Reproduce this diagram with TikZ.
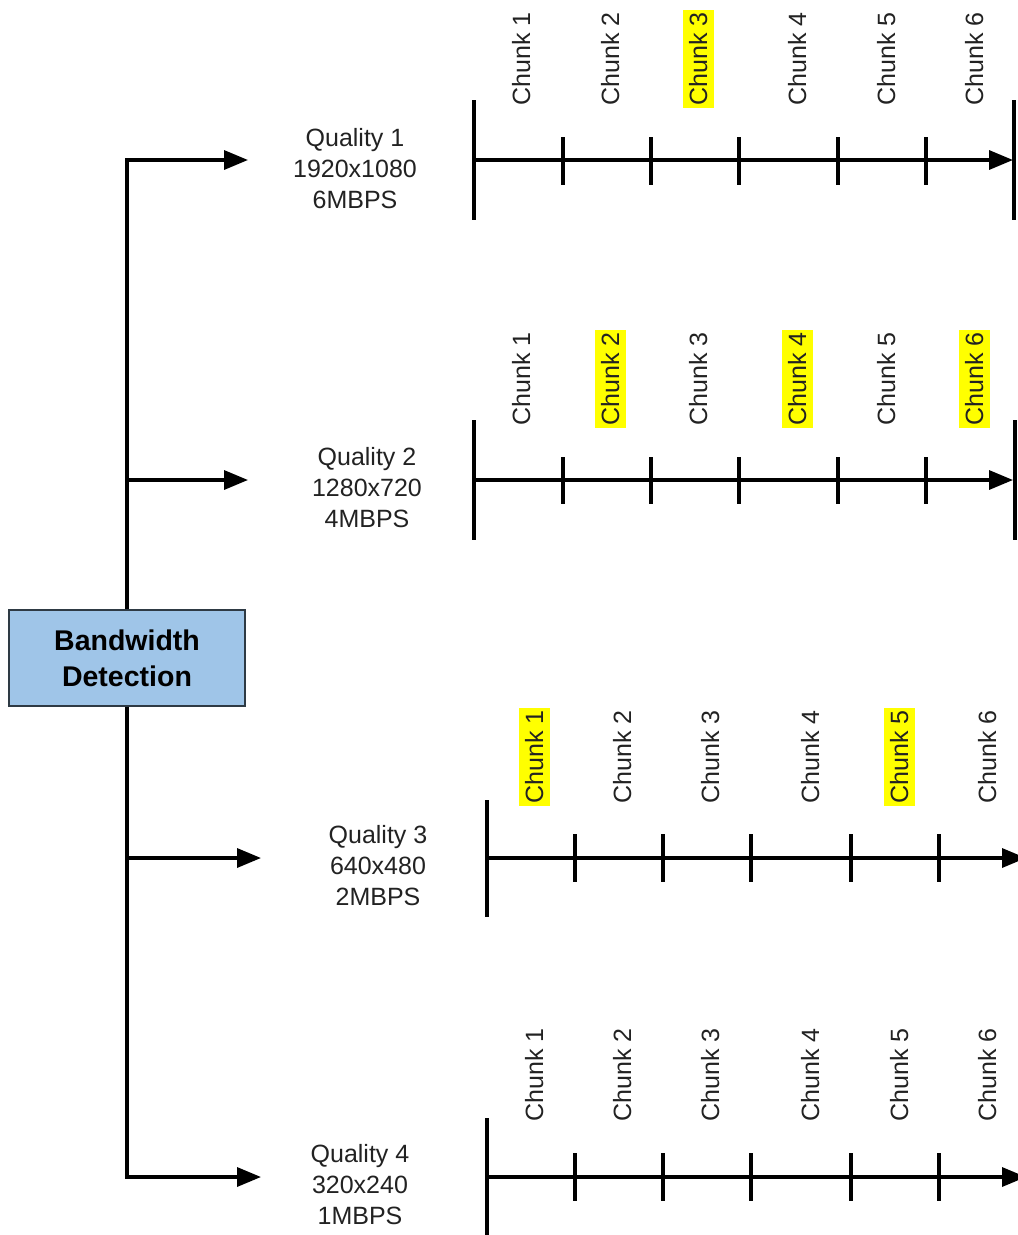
\documentclass[tikz,border=0pt]{standalone}
\usepackage{fontspec}
\setmainfont{Liberation Sans}
\usetikzlibrary{arrows.meta}
\definecolor{boxblue}{HTML}{9FC5E8}
\definecolor{boxline}{HTML}{2E3A44}
\definecolor{txt}{HTML}{222222}
\definecolor{hl}{HTML}{FFFF00}

\begin{document}
\begin{tikzpicture}[x=1pt,y=-1pt,
  wire/.style={line width=3.4pt, black},
  tip/.style={-{Triangle[length=24pt,width=19pt]}},
  qlabel/.style={align=center, font=\fontsize{25}{31}\selectfont, text=txt, inner sep=0pt},
  chunk/.style={rotate=90, font=\fontsize{25}{30}\selectfont, text=txt,
    text height=20pt, text depth=2pt, inner ysep=4.5pt, inner xsep=2pt},
  hlchunk/.style={chunk, fill=hl},
  detect/.style={draw=boxline, line width=1.6pt, fill=boxblue,
    minimum width=236pt, minimum height=96pt, align=center,
    font=\bfseries\fontsize{28.5}{36}\selectfont, text=black}
]
\clip (0,0) rectangle (1018,1235);

% central detection block
\node[detect] (bw) at (127,658) {Bandwidth\\Detection};

% branch arrow tips
\coordinate (a1) at (248,160);
\coordinate (a2) at (248,480);
\coordinate (a3) at (261,858);
\coordinate (a4) at (261,1177);
\draw[wire,tip] (bw.north) |- (a1);
\draw[wire,tip] (bw.north) |- (a2);
\draw[wire,tip] (bw.south) |- (a3);
\draw[wire,tip] (bw.south) |- (a4);

% quality labels
\node[qlabel] (q1) at (355,169) {Quality 1\\1920x1080\\6MBPS};
\node[qlabel] (q2) at (367,488) {Quality 2\\1280x720\\4MBPS};
\node[qlabel] (q3) at (378,866) {Quality 3\\640x480\\2MBPS};
\node[qlabel] (q4) at (360,1185) {Quality 4\\320x240\\1MBPS};

% timeline 1
\coordinate (t1s) at (474,160);
\coordinate (t1e) at (1013,160);
\draw[wire] (474,100) -- (474,220);
\draw[wire] (1014,100) -- (1014,220);
\draw[wire,tip] (t1s) -- (t1e);
\foreach \x in {563,651,739,838,926} \draw[wire] (\x,137) -- (\x,185);
\foreach \x/\s [count=\i] in {521/chunk,610/chunk,698/hlchunk,797/chunk,886/chunk,974/chunk}
  \node[\s] (ca\i) at (\x,59) {Chunk \i};

% timeline 2
\coordinate (t2s) at (474,480);
\coordinate (t2e) at (1013,480);
\draw[wire] (474,420) -- (474,540);
\draw[wire] (1015,420) -- (1015,540);
\draw[wire,tip] (t2s) -- (t2e);
\foreach \x in {563,651,739,838,926} \draw[wire] (\x,457) -- (\x,504);
\foreach \x/\s [count=\i] in {521/chunk,610/hlchunk,698/chunk,797/hlchunk,886/chunk,974/hlchunk}
  \node[\s] (cb\i) at (\x,379) {Chunk \i};

% timeline 3
\coordinate (t3s) at (487,858);
\coordinate (t3e) at (1026,858);
\draw[wire] (487,800) -- (487,917);
\draw[wire,tip] (t3s) -- (t3e);
\foreach \x in {575,663,751,851,939} \draw[wire] (\x,834) -- (\x,882);
\foreach \x/\s [count=\i] in {534/hlchunk,622/chunk,710/chunk,810/chunk,899/hlchunk,987/chunk}
  \node[\s] (cc\i) at (\x,757) {Chunk \i};

% timeline 4
\coordinate (t4s) at (487,1177);
\coordinate (t4e) at (1026,1177);
\draw[wire] (487,1118) -- (487,1240);
\draw[wire,tip] (t4s) -- (t4e);
\foreach \x in {575,663,751,851,939} \draw[wire] (\x,1153) -- (\x,1201);
\foreach \x/\s [count=\i] in {534/chunk,622/chunk,710/chunk,810/chunk,899/chunk,987/chunk}
  \node[\s] (cd\i) at (\x,1075) {Chunk \i};
\end{tikzpicture}
\end{document}
